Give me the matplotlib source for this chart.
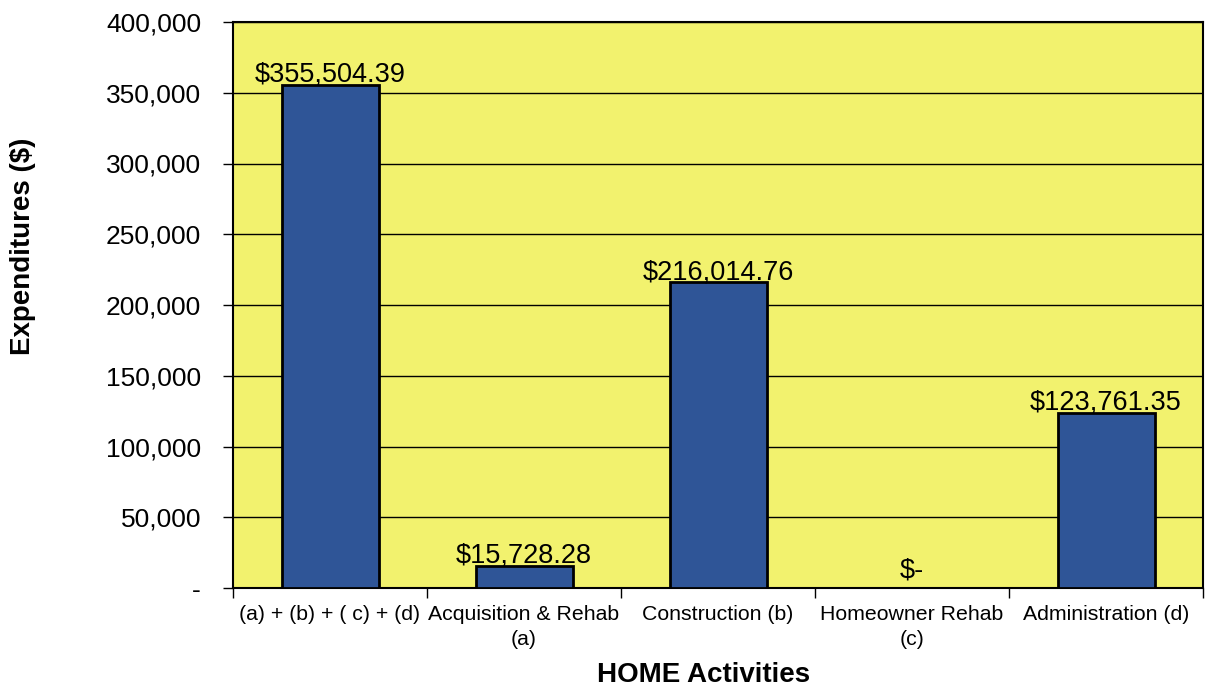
import matplotlib
matplotlib.use("Agg")
import matplotlib.pyplot as plt
from matplotlib.ticker import FixedLocator, FuncFormatter

plt.rcParams['font.family'] = ['Liberation Sans', 'DejaVu Sans']

categories = ["(a) + (b) + ( c) + (d)", "Acquisition & Rehab\n(a)", "Construction (b)",
              "Homeowner Rehab\n(c)", "Administration (d)"]
values = [355504.39, 15728.28, 216014.76, 0.0, 123761.35]
bar_labels = ["$355,504.39", "$15,728.28", "$216,014.76", "$-", "$123,761.35"]
y_ticks = [0, 50000, 100000, 150000, 200000, 250000, 300000, 350000, 400000]

W, H = 1209, 690
fig = plt.figure(figsize=(W / 100, H / 100), dpi=100)
ax = fig.add_axes([233 / W, 1 - 588 / H, (1203 - 233) / W, (588 - 22) / H])
ax.set_facecolor("#F2F26E")

x = list(range(len(categories)))
ax.set_axisbelow(True)
ax.yaxis.grid(True, color="black", linewidth=1.0)
bars = ax.bar(x, values, width=0.5, color="#2F5597", edgecolor="black", linewidth=2.0, zorder=3)

for xi, v, lab in zip(x, values, bar_labels):
    off = 3 if v > 0 else 10
    ax.annotate(lab, (xi, v), xytext=(0, off), textcoords="offset pixels",
                ha="center", va="baseline", fontsize=19.5, color="black", zorder=4)

ax.set_xlim(-0.5, len(categories) - 0.5)
ax.set_ylim(0, 400000)
ax.yaxis.set_major_locator(FixedLocator(y_ticks))
ax.yaxis.set_major_formatter(FuncFormatter(lambda v, p: "-" if v == 0 else f"{int(v):,}"))
ax.tick_params(axis="y", labelsize=19, length=7, width=1, pad=16, direction="out")

ax.set_xticks(x)
ax.set_xticklabels(categories, fontsize=15.3, linespacing=1.45)
ax.tick_params(axis="x", length=0, pad=12)
ax.set_xticks([i - 0.5 for i in range(len(categories) + 1)], minor=True)
ax.tick_params(axis="x", which="minor", length=7, width=1, direction="out")

for s in ax.spines.values():
    s.set_linewidth(1.5)
    s.set_color("black")

fig.text(23 / W, 1 - 246 / H, "Expenditures ($)", rotation=90, ha="center", va="center",
         fontsize=20, fontweight="bold")
fig.text(704 / W, 1 - 675 / H, "HOME Activities", ha="center", va="center",
         fontsize=20, fontweight="bold")

fig.savefig("out.png", dpi=100, facecolor="white")
